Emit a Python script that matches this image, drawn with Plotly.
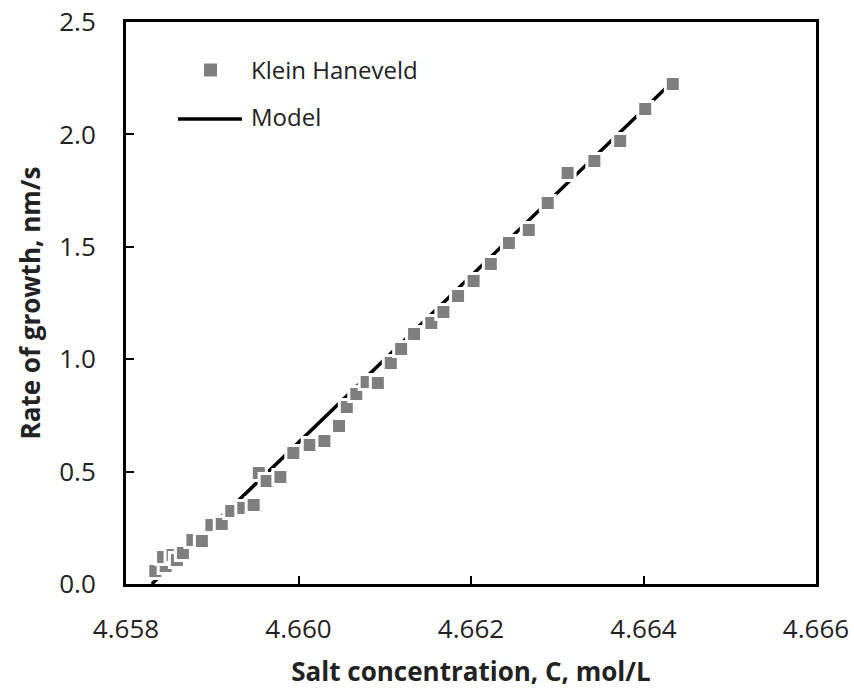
import plotly.graph_objects as go

# Experimental data (Klein Haneveld)
conc = [4.65834, 4.65846, 4.65843, 4.65854, 4.65859, 4.65866, 4.65877, 4.65888,
        4.65899, 4.65911, 4.65922, 4.65936, 4.65948, 4.65954, 4.65963, 4.65979,
        4.65994, 4.66013, 4.66030, 4.66047, 4.66056, 4.66067, 4.66079, 4.66092,
        4.66107, 4.66119, 4.66134, 4.66154, 4.66168, 4.66185, 4.66203, 4.66223,
        4.66244, 4.66267, 4.66289, 4.66312, 4.66343, 4.66373, 4.66402, 4.66434]
rate = [0.058, 0.080, 0.120, 0.129, 0.107, 0.138, 0.196, 0.191,
        0.262, 0.267, 0.325, 0.338, 0.351, 0.494, 0.458, 0.476,
        0.583, 0.618, 0.636, 0.703, 0.787, 0.845, 0.899, 0.894,
        0.983, 1.045, 1.112, 1.161, 1.210, 1.281, 1.348, 1.423,
        1.517, 1.575, 1.695, 1.828, 1.882, 1.971, 2.113, 2.224]

# Model curve
model_conc = [4.6583, 4.6600, 4.6620, 4.6640, 4.66435]
model_rate = [0.00, 0.63, 1.37, 2.11, 2.24]

x_ticks = [4.658, 4.660, 4.662, 4.664, 4.666]
x_ticktext = ["4.658", "4.660", "4.662", "4.664", "4.666"]
y_ticks = [0.0, 0.5, 1.0, 1.5, 2.0, 2.5]
y_ticktext = ["0.0", "0.5", "1.0", "1.5", "2.0", "2.5"]

FONT = "Open Sans"
GRAY = "#7f7f7f"

fig = go.Figure()
fig.add_trace(go.Scatter(x=model_conc, y=model_rate, mode="lines", name="Model",
                         line=dict(color="black", width=3.5), showlegend=False))
fig.add_trace(go.Scatter(x=conc, y=rate, mode="markers", name="Klein Haneveld",
                         marker=dict(symbol="square", size=15, color=GRAY,
                                     line=dict(color="white", width=3)),
                         showlegend=False))

# Manual legend (paper coordinates)
L, R, T, B = 126, 816, 22, 584
def px(x):
    return (x - L) / (R - L)
def py(y):
    return (B - y) / (B - T)

shapes = [
    dict(type="rect", xref="paper", yref="paper",
         x0=px(204), x1=px(217), y0=py(76.5), y1=py(63.5),
         fillcolor=GRAY, line=dict(width=0)),
    dict(type="line", xref="paper", yref="paper",
         x0=px(178), x1=px(242), y0=py(119), y1=py(119),
         line=dict(color="black", width=3.5)),
]
annotations = [
    dict(text="Klein Haneveld", xref="paper", yref="paper", x=px(249), y=py(69),
         xanchor="left", yanchor="middle", showarrow=False,
         font=dict(family=FONT, size=24, color="#222")),
    dict(text="Model", xref="paper", yref="paper", x=px(249), y=py(117),
         xanchor="left", yanchor="middle", showarrow=False,
         font=dict(family=FONT, size=24, color="#222")),
]

fig.update_layout(
    width=854, height=689,
    margin=dict(l=L, r=854 - R, t=T, b=689 - B),
    paper_bgcolor="white", plot_bgcolor="white",
    font=dict(family=FONT, color="#222"),
    shapes=shapes, annotations=annotations,
    showlegend=False,
)
fig.update_xaxes(
    range=[4.658, 4.666], tickvals=x_ticks, ticktext=x_ticktext,
    ticks="inside", ticklen=8, tickwidth=2, tickcolor="black",
    showline=True, linecolor="black", linewidth=3, mirror=True,
    showgrid=False, zeroline=False,
    tickfont=dict(family=FONT, size=26, color="#222"),
    ticklabelstandoff=20,
    title=dict(text="<b>Salt concentration, C, mol/L</b>", standoff=18,
               font=dict(family=FONT, size=26, color="#222")),
    automargin=False,
)
fig.update_yaxes(
    range=[0, 2.5], tickvals=y_ticks, ticktext=y_ticktext,
    ticks="inside", ticklen=8, tickwidth=2, tickcolor="black",
    showline=True, linecolor="black", linewidth=3, mirror=True,
    showgrid=False, zeroline=False,
    tickfont=dict(family=FONT, size=26, color="#222"),
    ticklabelstandoff=22,
    title=dict(text="<b>Rate of growth, nm/s</b>", standoff=12,
               font=dict(family=FONT, size=26, color="#222")),
    automargin=False,
)

fig.write_html("out.html")
